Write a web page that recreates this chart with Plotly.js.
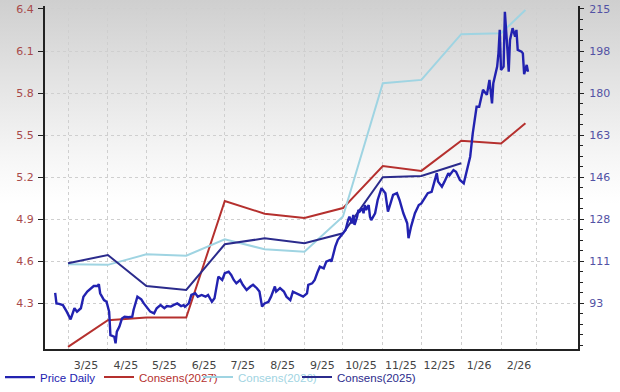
<!DOCTYPE html>
<html>
<head>
<meta charset="utf-8">
<script src="https://cdn.plot.ly/plotly-3.0.1.min.js"></script>
<style>
  html, body { margin: 0; padding: 0; width: 620px; height: 392px; overflow: hidden;
    background: linear-gradient(to bottom, #cfcfcf 0%, #e3e3e3 20%, #f6f6f6 40%, #ffffff 52%, #ffffff 100%); }
  #chart { width: 620px; height: 392px; }
</style>
</head>
<body>
<div id="chart"></div>
<script>
// ---- Data ----
const priceDates = ['2025-02-19','2025-02-20','2025-02-22','2025-02-25','2025-02-28','2025-03-03','2025-03-06','2025-03-08','2025-03-11','2025-03-13',
'2025-03-16','2025-03-19','2025-03-21','2025-03-24','2025-03-25','2025-03-26','2025-03-29','2025-03-31','2025-04-02','2025-04-03',
'2025-04-06','2025-04-07','2025-04-08','2025-04-10','2025-04-12','2025-04-14','2025-04-17','2025-04-20','2025-04-21','2025-04-24',
'2025-04-27','2025-04-29','2025-05-02','2025-05-04','2025-05-07','2025-05-09','2025-05-12','2025-05-15','2025-05-17','2025-05-20',
'2025-05-22','2025-05-25','2025-05-28','2025-05-30','2025-05-31','2025-06-03','2025-06-05','2025-06-08','2025-06-10','2025-06-13',
'2025-06-16','2025-06-18','2025-06-21','2025-06-23','2025-06-26','2025-06-29','2025-07-01','2025-07-04','2025-07-06','2025-07-08',
'2025-07-10','2025-07-13','2025-07-15','2025-07-18','2025-07-21','2025-07-23','2025-07-26','2025-07-28','2025-07-30','2025-08-01',
'2025-08-04','2025-08-06','2025-08-09','2025-08-10','2025-08-13','2025-08-16','2025-08-18','2025-08-21','2025-08-23','2025-08-26',
'2025-08-28','2025-08-31','2025-09-03','2025-09-04','2025-09-07','2025-09-09','2025-09-11','2025-09-13','2025-09-16','2025-09-18',
'2025-09-21','2025-09-22','2025-09-23','2025-09-25','2025-09-27','2025-09-30','2025-10-03','2025-10-05','2025-10-06','2025-10-08',
'2025-10-09','2025-10-10','2025-10-12','2025-10-13','2025-10-14','2025-10-16','2025-10-17','2025-10-18','2025-10-19','2025-10-21',
'2025-10-22','2025-10-23','2025-10-26','2025-10-28','2025-10-31','2025-11-03','2025-11-05','2025-11-07','2025-11-09','2025-11-12',
'2025-11-14','2025-11-17','2025-11-20','2025-11-21','2025-11-23','2025-11-26','2025-11-29','2025-12-01','2025-12-04','2025-12-06',
'2025-12-09','2025-12-12','2025-12-13','2025-12-14','2025-12-17','2025-12-19','2025-12-22','2025-12-23','2025-12-26','2025-12-28',
'2025-12-31','2026-01-03','2026-01-05','2026-01-08','2026-01-10','2026-01-12','2026-01-13','2026-01-15','2026-01-17','2026-01-18',
'2026-01-21','2026-01-23','2026-01-25','2026-01-26','2026-01-29','2026-01-30','2026-01-31','2026-02-01','2026-02-03','2026-02-04',
'2026-02-06','2026-02-07','2026-02-08','2026-02-10','2026-02-12','2026-02-13','2026-02-14','2026-02-17','2026-02-18','2026-02-19','2026-02-21','2026-02-22'];
const priceValues = [97.7,93.3,93.1,92.6,89.9,86.7,91.3,89.9,91.3,96.1,
98.2,99.6,100.5,100.5,101.3,97.5,94.7,94.0,89.9,80.2,
79.5,76.8,81.6,83.7,87.1,87.8,87.6,87.8,90.6,96.1,
95.0,93.3,91.3,89.9,89.2,91.3,92.6,91.3,92.2,92.0,
92.6,93.3,92.2,92.6,91.9,93.3,96.8,97.5,96.1,96.8,
96.1,96.8,94.0,95.4,104.4,103.0,105.8,106.4,105.1,103.0,
101.6,103.0,101.0,98.9,100.3,101.0,99.6,98.2,92.0,93.3,
94.0,96.1,100.3,98.2,99.6,98.2,96.1,94.7,98.2,97.5,
96.8,96.1,97.5,101.0,101.6,103.0,106.0,108.5,107.8,110.6,
111.3,110.6,112.6,116.8,119.6,121.6,123.7,127.8,129.2,126.5,
129.9,125.8,129.2,132.0,131.3,132.7,130.6,134.0,132.0,134.0,
129.2,127.8,130.6,136.1,141.0,138.9,131.3,134.7,138.2,138.9,
136.1,130.6,126.5,120.3,125.1,130.6,134.0,134.7,137.5,138.9,
139.5,145.1,147.2,143.7,141.6,143.7,147.2,146.4,148.5,147.8,
144.4,143.0,147.2,154.0,163.7,170.6,174.7,174.7,180.3,181.7,
179.6,185.8,176.1,184.4,191.3,196.8,206.5,189.9,191.3,214.0,
198.2,189.2,202.3,207.2,203.7,206.5,198.2,197.5,196.8,188.2,192.0,189.2];

const consensDates = ['2025-03-01','2025-04-01','2025-05-01','2025-06-01','2025-07-01','2025-08-01','2025-09-01','2025-10-01','2025-11-01','2025-12-01','2026-01-01','2026-02-01','2026-02-20'];
const consens2027 = [3.99,4.18,4.20,4.20,5.03,4.94,4.91,4.98,5.28,5.245,5.46,5.44,5.585];
const consens2026 = [4.58,4.575,4.65,4.64,4.757,4.686,4.669,4.92,5.87,5.894,6.22,6.227,6.393];
const consens2025Dates = ['2025-03-01','2025-04-01','2025-05-01','2025-06-01','2025-07-01','2025-08-01','2025-09-01','2025-10-01','2025-11-01','2025-12-01','2026-01-01'];
const consens2025 = [4.586,4.645,4.424,4.396,4.722,4.764,4.729,4.80,5.20,5.209,5.30];

const monthStarts = ['2025-03-01','2025-04-01','2025-05-01','2025-06-01','2025-07-01','2025-08-01','2025-09-01','2025-10-01','2025-11-01','2025-12-01','2026-01-01','2026-02-01','2026-03-01'];
const xTickDates = ['2025-03-15','2025-04-15','2025-05-15','2025-06-15','2025-07-15','2025-08-15','2025-09-15','2025-10-15','2025-11-15','2025-12-15','2026-01-15','2026-02-15'];
const xTickLabels = ['3/25','4/25','5/25','6/25','7/25','8/25','9/25','10/25','11/25','12/25','1/26','2/26'];

const leftTicks = [4.3,4.6,4.9,5.2,5.5,5.8,6.1,6.4];
const rightTickVals = [93.3,110.71,128.12,145.53,162.94,180.35,197.76,215.17];
const rightTickLabels = ['93','111','128','146','163','180','198','215'];

// ---- Styles ----
const cPrice = '#2222b0';
const c2027 = '#b5302e';
const c2026 = '#9fd4e2';
const c2025 = '#2b2b8c';

const traces = [
  {x: priceDates, y: priceValues, yaxis: 'y2', type: 'scatter', mode: 'lines', legendwidth: 54,
   name: '<span style="color:' + cPrice + '">Price Daily</span>', line: {color: cPrice, width: 2.4}},
  {x: consensDates, y: consens2027, type: 'scatter', mode: 'lines', legendwidth: 54,
   name: '<span style="color:' + c2027 + '">Consens(2027)</span>', line: {color: c2027, width: 2}},
  {x: consensDates, y: consens2026, type: 'scatter', mode: 'lines', legendwidth: 54,
   name: '<span style="color:' + c2026 + '">Consens(2026)</span>', line: {color: c2026, width: 2}},
  {x: consens2025Dates, y: consens2025, type: 'scatter', mode: 'lines',
   name: '<span style="color:' + c2025 + '">Consens(2025)</span>', line: {color: c2025, width: 2}}
];

const axisFont = {family: '"DejaVu Sans", Verdana, sans-serif', size: 11};

const layout = {
  width: 620, height: 392,
  margin: {l: 45, r: 42, t: 6, b: 43, autoexpand: false},
  paper_bgcolor: 'rgba(0,0,0,0)',
  plot_bgcolor: 'rgba(0,0,0,0)',
  showlegend: true,
  legend: {orientation: 'h', xref: 'container', yref: 'container', x: 0, xanchor: 'left', y: 0.038, yanchor: 'middle',
    font: {family: '"Liberation Sans", Arial, sans-serif', size: 11.5, color: '#333'},
    bgcolor: 'rgba(0,0,0,0)', itemwidth: 30, tracegroupgap: 0},
  xaxis: {
    type: 'date', range: ['2025-02-11 02:00', '2026-04-01 22:00'],
    tickmode: 'array', tickvals: xTickDates, ticktext: xTickLabels,
    ticks: '', showgrid: false, zeroline: false,
    showline: true, linecolor: '#222', linewidth: 2,
    tickfont: Object.assign({color: '#444'}, axisFont), ticklabelstandoff: 5,
    minor: {tickmode: 'array', tickvals: monthStarts, showgrid: true, gridcolor: '#cfcfcf', gridwidth: 1, griddash: 'dot', ticks: ''}
  },
  yaxis: {
    range: [3.975, 6.421], tickmode: 'array', tickvals: leftTicks, tickformat: '.1f',
    ticks: 'outside', ticklen: 5, tickcolor: '#222', tickwidth: 1,
    showgrid: true, gridcolor: '#cfcfcf', gridwidth: 1, griddash: 'dot', zeroline: false,
    showline: true, linecolor: '#222', linewidth: 2,
    tickfont: Object.assign({color: '#a84a4a'}, axisFont), ticklabelstandoff: 2
  },
  yaxis2: {
    overlaying: 'y', side: 'right', range: [74.44, 216.38],
    tickmode: 'array', tickvals: rightTickVals, ticktext: rightTickLabels,
    ticks: 'outside', ticklen: 4, tickcolor: '#222', tickwidth: 1,
    showgrid: false, zeroline: false,
    showline: true, linecolor: '#222', linewidth: 2,
    tickfont: Object.assign({color: '#5252a4'}, axisFont), ticklabelstandoff: 3,
    minor: {tickmode: 'linear', tick0: 93.3, dtick: 4.3525, ticks: 'outside', ticklen: 3, tickcolor: '#222', showgrid: false}
  }
};

Plotly.newPlot('chart', traces, layout, {displayModeBar: false, staticPlot: true});
</script>
</body>
</html>
